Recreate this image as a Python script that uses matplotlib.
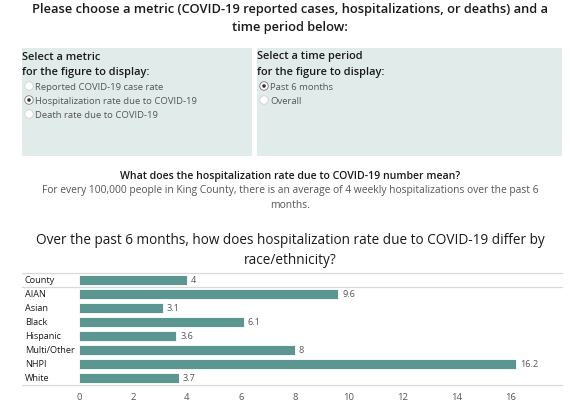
import matplotlib
matplotlib.use("Agg")
import matplotlib.pyplot as plt
from matplotlib.patches import Rectangle, Ellipse

plt.rcParams['font.family'] = ['Open Sans', 'DejaVu Sans']

categories = ["County", "AIAN", "Asian", "Black", "Hispanic", "Multi/Other", "NHPI", "White"]
values = [4, 9.6, 3.1, 6.1, 3.6, 8, 16.2, 3.7]
value_labels = ["4", "9.6", "3.1", "6.1", "3.6", "8", "16.2", "3.7"]
xticks = [0, 2, 4, 6, 8, 10, 12, 14, 16]

metric_options = ["Reported COVID-19 case rate", "Hospitalization rate due to COVID-19", "Death rate due to COVID-19"]
metric_selected = 1
period_options = ["Past 6 months", "Overall"]
period_selected = 0

W, H = 570, 406
fig = plt.figure(figsize=(W / 100, H / 100), dpi=100)
fig.patch.set_facecolor("white")

def fx(x):
    return x / W

def fy(y):
    return 1 - y / H

dark = "#1a1a1a"
grey = "#555555"
panel = "#e1ecea"
bar_color = "#5b9690"

# Title
fig.text(fx(290), fy(10), "Please choose a metric (COVID-19 reported cases, hospitalizations, or deaths) and a",
         ha="center", va="center", fontsize=9.3, fontweight="semibold", color=dark)
fig.text(fx(290), fy(28), "time period below:", ha="center", va="center",
         fontsize=9.3, fontweight="semibold", color=dark)

# Panels
fig.patches.append(Rectangle((fx(22), fy(157)), fx(252) - fx(22), fy(49) - fy(157),
                             transform=fig.transFigure, facecolor=panel, edgecolor="none"))
fig.patches.append(Rectangle((fx(257), fy(157)), fx(562) - fx(257), fy(49) - fy(157),
                             transform=fig.transFigure, facecolor=panel, edgecolor="none"))

def radio_group(x0, title1, title2, options, selected):
    fig.text(fx(x0), fy(57), title1, ha="left", va="center", fontsize=7.9,
             fontweight="semibold", color=dark)
    fig.text(fx(x0), fy(72), title2, ha="left", va="center", fontsize=7.9,
             fontweight="semibold", color=dark)
    for i, opt in enumerate(options):
        y = 87 + 14 * i
        cx = x0 + 7
        fig.patches.append(Ellipse((fx(cx), fy(y)), 8.5 / W, 8.5 / H, transform=fig.transFigure,
                                   facecolor="white",
                                   edgecolor="#d0d0d0" if i != selected else "#777777",
                                   linewidth=0.6))
        if i == selected:
            fig.patches.append(Ellipse((fx(cx), fy(y)), 3.6 / W, 3.6 / H, transform=fig.transFigure,
                                       facecolor="#333333", edgecolor="none"))
        fig.text(fx(cx + 6), fy(y), opt, ha="left", va="center", fontsize=6.8, color=grey)

radio_group(22, "Select a metric", "for the figure to display:", metric_options, metric_selected)
radio_group(257, "Select a time period", "for the figure to display:", period_options, period_selected)

# Explanation
fig.text(fx(290), fy(176), "What does the hospitalization rate due to COVID-19 number mean?",
         ha="center", va="center", fontsize=7.6, fontweight="semibold", color=dark)
fig.text(fx(290), fy(191), "For every 100,000 people in King County, there is an average of 4 weekly hospitalizations over the past 6",
         ha="center", va="center", fontsize=7.4, color=grey)
fig.text(fx(290), fy(206), "months.", ha="center", va="center", fontsize=7.4, color=grey)

# Chart title
fig.text(fx(290), fy(241), "Over the past 6 months, how does hospitalization rate due to COVID-19 differ by",
         ha="center", va="center", fontsize=9.8, color=dark)
fig.text(fx(290), fy(260), "race/ethnicity?", ha="center", va="center", fontsize=9.8, color=dark)

# Bar chart
ax_left, ax_right, ax_top, ax_bottom = 79, 562, 274, 386
ax = fig.add_axes([fx(ax_left), fy(ax_bottom), fx(ax_right) - fx(ax_left), fy(ax_top) - fy(ax_bottom)])
n = len(categories)
ypos = list(range(n))
ax.barh(ypos, values, height=0.72, color=bar_color, edgecolor="white", linewidth=0.6)
ax.set_ylim(n - 0.5, -0.5)
ax.set_xlim(0, 17.9)
for y, v, lab in zip(ypos, values, value_labels):
    ax.text(v + 0.15, y, lab, ha="left", va="center", fontsize=6.6, color=grey)
ax.set_yticks(ypos)
ax.set_yticklabels([])
ax.tick_params(axis="y", length=0)
for y, c in zip(ypos, categories):
    ax.text((25 - ax_left) / (ax_right - ax_left), y, c, transform=ax.get_yaxis_transform(),
            ha="left", va="center", fontsize=6.6, color=dark)
ax.set_xticks(xticks)
ax.set_xticklabels([str(t) for t in xticks], fontsize=6.8, color=grey)
ax.tick_params(axis="x", length=0, pad=5)
for s in ax.spines.values():
    s.set_visible(False)

# Horizontal rule lines spanning label column
for yy in (274, 288, 386):
    fig.add_artist(plt.Line2D([fx(22), fx(ax_right)], [fy(yy), fy(yy)], transform=fig.transFigure,
                              color="#d9d9d9", linewidth=0.9))

fig.savefig("out.png", dpi=100, facecolor="white")
